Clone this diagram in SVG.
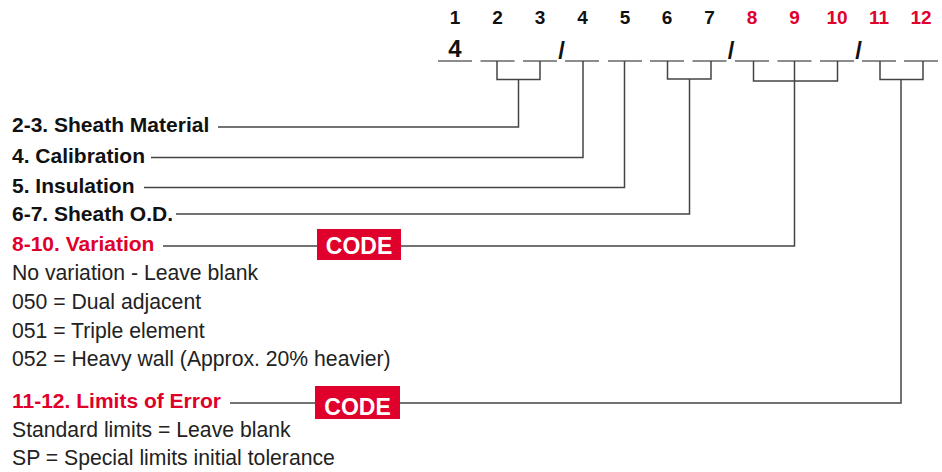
<svg xmlns="http://www.w3.org/2000/svg" width="942" height="472" viewBox="0 0 942 472">
<style>
.num{font-family:"Liberation Sans",Arial,sans-serif;font-weight:bold;font-size:19px;text-anchor:middle;fill:#111}
.big{font-family:"Liberation Sans",Arial,sans-serif;font-weight:bold;font-size:24px;text-anchor:middle;fill:#111}
.lbl{font-family:"Liberation Sans",Arial,sans-serif;font-weight:bold;font-size:21px;fill:#111}
.body{font-family:"Liberation Sans",Arial,sans-serif;font-size:21.2px;fill:#222}
.num.red,.lbl.red{fill:#e0002c}
.seg{stroke:#666;stroke-width:1.5;fill:none}
.con{stroke:#444;stroke-width:1.5;fill:none}
.codebox{fill:#e0002c}
.codetxt{font-family:"Liberation Sans",Arial,sans-serif;font-weight:bold;font-size:23px;fill:#fff;text-anchor:middle}
</style>
<rect width="942" height="472" fill="#fff"/>
<g id="header">
<text class="num" x="455" y="24">1</text>
<text class="num" x="497.5" y="24">2</text>
<text class="num" x="540" y="24">3</text>
<text class="num" x="582.5" y="24">4</text>
<text class="num" x="625" y="24">5</text>
<text class="num" x="667" y="24">6</text>
<text class="num" x="709.5" y="24">7</text>
<text class="num red" x="752" y="24">8</text>
<text class="num red" x="794.5" y="24">9</text>
<text class="num red" x="837" y="24">10</text>
<text class="num red" x="879" y="24">11</text>
<text class="num red" x="921" y="24">12</text>
<text class="big" x="455" y="57">4</text>
<text class="big" x="561.5" y="59">/</text>
<text class="big" x="731" y="59">/</text>
<text class="big" x="858.5" y="59">/</text>
<g class="seg">
<line x1="438" y1="61" x2="472" y2="61"/>
<line x1="480.5" y1="61" x2="514.5" y2="61"/>
<line x1="523" y1="61" x2="557" y2="61"/>
<line x1="565" y1="61" x2="599" y2="61"/>
<line x1="608" y1="61" x2="642" y2="61"/>
<line x1="650" y1="61" x2="684" y2="61"/>
<line x1="692.5" y1="61" x2="726.5" y2="61"/>
<line x1="735" y1="61" x2="769" y2="61"/>
<line x1="777.5" y1="61" x2="811.5" y2="61"/>
<line x1="820" y1="61" x2="854" y2="61"/>
<line x1="862" y1="61" x2="896" y2="61"/>
<line x1="904" y1="61" x2="938" y2="61"/>
</g>
</g>
<g id="connectors" class="con">
<polyline points="497,61 497,79.5 540,79.5 540,61"/>
<polyline points="518.5,79.5 518.5,127 218,127"/>
<polyline points="583,61 583,157.5 151,157.5"/>
<polyline points="624.5,61 624.5,187.5 144,187.5"/>
<polyline points="667.5,61 667.5,79 711,79 711,61"/>
<polyline points="689.5,79 689.5,214 176,214"/>
<polyline points="753.5,61 753.5,81 837.5,81 837.5,61"/>
<polyline points="794.5,61 794.5,246 401,246"/>
<line x1="163" y1="246" x2="317" y2="246"/>
<polyline points="880,61 880,79.5 923,79.5 923,61"/>
<polyline points="901,79.5 901,403 400,403"/>
<line x1="230" y1="403" x2="315" y2="403"/>
</g>
<g id="sheath-material"><text class="lbl" x="12" y="132">2-3. Sheath Material</text></g>
<g id="calibration"><text class="lbl" x="12" y="163">4. Calibration</text></g>
<g id="insulation"><text class="lbl" x="12" y="192.5">5. Insulation</text></g>
<g id="sheath-od"><text class="lbl" x="12" y="220.5">6-7. Sheath O.D.</text></g>
<g id="variation">
<text class="lbl red" x="12" y="250.5">8-10. Variation</text>
<rect class="codebox" x="317" y="229" width="84" height="31"/>
<text class="codetxt" x="359" y="253.5">CODE</text>
<text class="body" x="12" y="280">No variation - Leave blank</text>
<text class="body" x="12" y="308.5">050 = Dual adjacent</text>
<text class="body" x="12" y="337.5">051 = Triple element</text>
<text class="body" x="12" y="366">052 = Heavy wall (Approx. 20% heavier)</text>
</g>
<g id="limits">
<text class="lbl red" x="12" y="407.5">11-12. Limits of Error</text>
<rect class="codebox" x="315" y="386" width="85" height="33"/>
<text class="codetxt" x="357.5" y="414.5">CODE</text>
<text class="body" x="12" y="436.5">Standard limits = Leave blank</text>
<text class="body" x="12" y="465">SP = Special limits initial tolerance</text>
</g>
</svg>
